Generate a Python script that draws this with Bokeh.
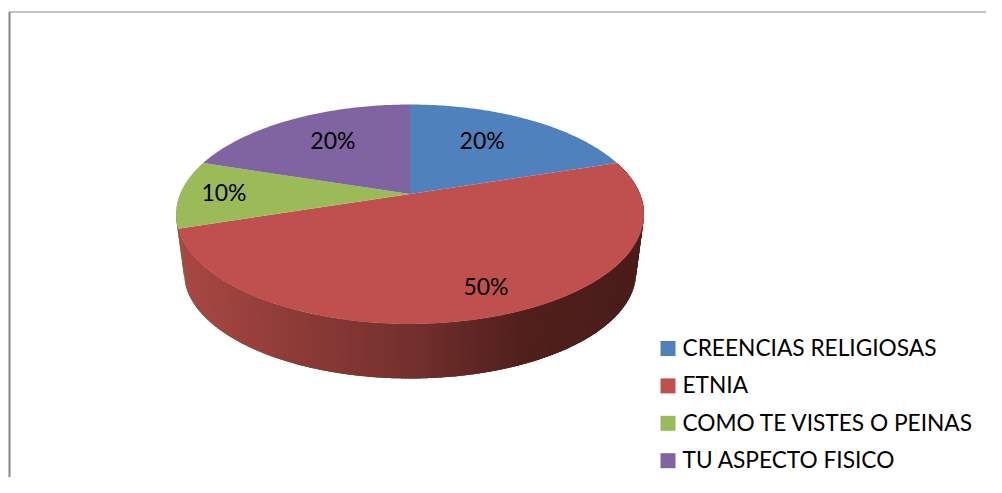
import numpy as np
from bokeh.core.properties import value
from bokeh.embed import file_html
from bokeh.models import Range1d
from bokeh.plotting import figure
from bokeh.resources import INLINE

# ---- data ----
categories = ["CREENCIAS RELIGIOSAS", "ETNIA", "COMO TE VISTES O PEINAS", "TU ASPECTO FISICO"]
percent = [20, 50, 10, 20]
colors = ["#4F81BD", "#C0504D", "#9BBB59", "#8064A2"]

# ---- layout (picture pixels) ----
W, H = 986, 477
FONT = value("Lato")
CX, APEX_Y = 409.5, 193.5      # apex of the pie on the top face
RX, RY, PERSP = 230.0, 106.0, 0.1845
BASE_Y, BASE_S = 252.4, 0.966  # lower rim: apex height and scale
LABEL_R = [0.63, 0.80, 0.80, 0.63]
LABEL_NUDGE = [(-2, -7), (7, -6), (-2, -2), (-3, -7)]
LEG_X, LEG_Y0, LEG_DY = 667.5, 348.0, 37.4


def rim(theta_deg, apex_y=APEX_Y, s=1.0, r=1.0):
    t = np.radians(np.asarray(theta_deg, dtype=float))
    d = 1 + PERSP * np.cos(t)
    return CX + s * r * RX * np.sin(t) / d, apex_y - s * r * RY * np.cos(t) / d


def wall_color(x):
    stops_x = [180, 300, 410, 525, 640]
    stops = np.array([[168, 72, 67], [140, 58, 54], [116, 48, 46], [80, 31, 28], [74, 29, 26]])
    return "#%02x%02x%02x" % tuple(int(round(np.interp(x, stops_x, stops[:, i]))) for i in range(3))


p = figure(width=W, height=H, output_backend="svg", toolbar_location=None,
           x_range=Range1d(0, W), y_range=Range1d(H, 0),
           min_border=0, outline_line_color=None,
           background_fill_color="white", border_fill_color="white")
p.xaxis.visible = False
p.yaxis.visible = False
p.grid.visible = False

# frame of the chart area
p.line([9, 9], [H, 11.5], line_color="#868686", line_width=2)
p.line([9, W], [11.5, 11.5], line_color="#868686", line_width=1)

edges = np.cumsum([0] + percent) * 3.6


def strips(start, stop, step, color_fn):
    xs, ys, cols = [], [], []
    for a in np.arange(start, stop, step):
        b = min(a + 2.5 * step, stop)      # overlap the next strip so no seam shows
        ang = np.linspace(a, b, 4)
        xt, yt = rim(ang)
        xb, yb = rim(ang[::-1], BASE_Y, BASE_S)
        xs.append(np.r_[xt, xb])
        ys.append(np.r_[yt, yb])
        cols.append(color_fn((xt[0] + xt[1]) / 2))
    return xs, ys, cols


# side wall: the ETNIA slice shaded strip by strip, drawn from the far side, and a sliver of green
xs, ys, cols = strips(edges[2], edges[2] + 10, 2.0, lambda x: "#76893f")
p.patches(xs, ys, fill_color=cols, line_color=None)
xs, ys, cols = strips(edges[1], edges[2], 0.75, wall_color)
p.patches(xs, ys, fill_color=cols, line_color=None)

# top face
for i, c in enumerate(colors):
    t = np.linspace(edges[i], edges[i + 1], 90)
    x, y = rim(t)
    p.patch(np.r_[CX, x], np.r_[APEX_Y, y], fill_color=c, line_color=None)

# percentage labels
lx, ly, lt = [], [], []
for i, v in enumerate(percent):
    mx, my = rim((edges[i] + edges[i + 1]) / 2, r=LABEL_R[i])
    lx.append(float(mx) + LABEL_NUDGE[i][0])
    ly.append(float(my) + LABEL_NUDGE[i][1])
    lt.append(f"{v}%")
p.text(lx, ly, text=lt, text_font=FONT, text_font_size="23px", text_color="#000000",
       text_align="center", text_baseline="middle")

# legend
ly = [LEG_Y0 + i * LEG_DY for i in range(len(categories))]
p.scatter([LEG_X] * len(categories), ly, marker="square", size=15, fill_color=colors, line_color=None)
p.text([LEG_X + 14.5] * len(categories), [v - 1 for v in ly], text=categories, text_font=FONT,
       text_font_size="22.7px", text_color="#000000", text_align="left", text_baseline="middle")

open("out.html", "w").write(file_html(p, INLINE))
